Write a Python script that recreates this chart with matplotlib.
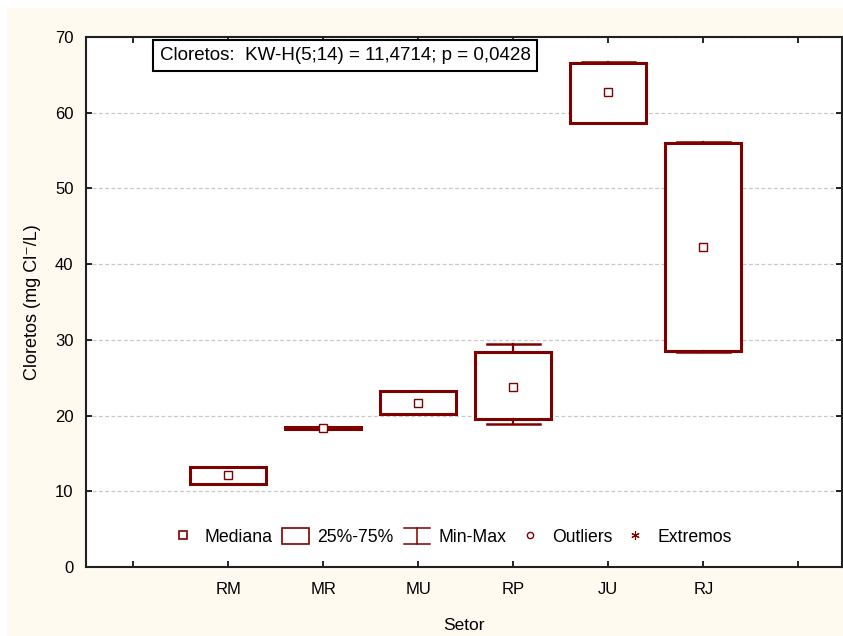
import matplotlib
matplotlib.use("Agg")
import matplotlib.pyplot as plt
from matplotlib.patches import Rectangle, Patch
from matplotlib.lines import Line2D
from matplotlib.legend_handler import HandlerBase

plt.rcParams['font.family'] = ['Liberation Sans', 'DejaVu Sans']

# Chloride by sector: min, quartiles, median, max (mg Cl-/L)
setores = ['RM', 'MR', 'MU', 'RP', 'JU', 'RJ']
minimo = [11.0, 18.2, 20.2, 18.9, 58.6, 28.4]
q1 = [11.0, 18.2, 20.2, 19.5, 58.7, 28.5]
mediana = [12.1, 18.3, 21.7, 23.8, 62.7, 42.3]
q3 = [13.2, 18.5, 23.2, 28.4, 66.6, 56.0]
maximo = [13.2, 18.5, 23.2, 29.4, 66.7, 56.1]
y_ticks = [0, 10, 20, 30, 40, 50, 60, 70]

cor = '#800000'
fundo = '#FFFAF0'

fig = plt.figure(figsize=(8.43, 6.36), dpi=100)
fig.patch.set_facecolor('white')
fig.patches.append(Rectangle((7 / 843, 0), 1, 1 - 8 / 636, transform=fig.transFigure,
                             facecolor=fundo, edgecolor='none', zorder=-10))

ax = fig.add_axes([86 / 843, 1 - 567 / 636, (842 - 86) / 843, (567 - 37) / 636])
ax.set_facecolor('white')

posicoes = list(range(2, 2 + len(setores)))
stats = []
for i, nome in enumerate(setores):
    stats.append(dict(label=nome, whislo=minimo[i], q1=q1[i], med=mediana[i],
                      q3=q3[i], whishi=maximo[i], fliers=[]))

ax.bxp(stats, positions=posicoes, widths=0.8, capwidths=0.56, showfliers=False,
       patch_artist=True,
       boxprops=dict(facecolor='white', edgecolor=cor, linewidth=2.2),
       whiskerprops=dict(color=cor, linewidth=1.6),
       capprops=dict(color=cor, linewidth=1.8),
       medianprops=dict(linewidth=0), zorder=3)
ax.plot(posicoes, mediana, linestyle='none', marker='s', markersize=6,
        markerfacecolor='white', markeredgecolor=cor, markeredgewidth=1.0, zorder=5)

ax.set_xlim(0.5, 8.46)
ax.set_ylim(0, 70)
ax.set_xticks(range(1, 9))
ax.set_xticklabels([''] + setores + [''])
ax.set_yticks(y_ticks)
ax.tick_params(axis='both', direction='in', length=4, width=1.2, labelsize=12,
               top=True, right=True, colors='black')
ax.tick_params(axis='x', pad=11)
ax.tick_params(axis='y', pad=9)
for s in ax.spines.values():
    s.set_linewidth(1.5)
    s.set_color('#202020')

ax.yaxis.grid(True, color='#c8c8c8', linestyle=(0, (3, 2)), linewidth=0.9)
ax.set_axisbelow(True)

ax.set_ylabel('Cloretos (mg Cl⁻/L)', fontsize=13, labelpad=10)
ax.set_xlabel('Setor', fontsize=12.5, labelpad=15)

ax.text(0.3426, 0.965, 'Cloretos:  KW-H(5;14) = 11,4714; p = 0,0428',
        transform=ax.transAxes, ha='center', va='center', fontsize=13.5,
        bbox=dict(boxstyle='square,pad=0.37', facecolor='white',
                  edgecolor='black', linewidth=1.5), zorder=6)


class WhiskerHandler(HandlerBase):
    def create_artists(self, legend, orig_handle, xdescent, ydescent,
                       width, height, fontsize, trans):
        x0, x1 = -xdescent, -xdescent + width
        y0, y1 = -ydescent, -ydescent + height
        xm = (x0 + x1) / 2
        linhas = [Line2D([x0, x1], [y1, y1]), Line2D([xm, xm], [y0, y1]),
                  Line2D([x0, x1], [y0, y0])]
        for ln in linhas:
            ln.set_color(cor)
            ln.set_linewidth(1.1)
            ln.set_transform(trans)
        return linhas


h_med = Line2D([], [], linestyle='none', marker='s', markersize=6,
               markerfacecolor='white', markeredgecolor=cor, markeredgewidth=1.2)
h_box = Patch(facecolor='white', edgecolor=cor, linewidth=1.2)
h_mm = object()
h_out = Line2D([], [], linestyle='none', marker='o', markersize=4.5,
               markerfacecolor='white', markeredgecolor=cor, markeredgewidth=1.0)
h_ext = Line2D([], [], linestyle='none', marker=(6, 2, 0), markersize=6,
               markeredgecolor=cor, markeredgewidth=0.8)

ax.legend([h_med, h_box, h_mm, h_out, h_ext],
          ['Mediana', '25%-75%', 'Min-Max', 'Outliers', 'Extremos'],
          handler_map={object: WhiskerHandler()},
          loc='center', bbox_to_anchor=(0.482, 0.057), ncol=5, frameon=False,
          fontsize=12.7, handlelength=1.5, handleheight=1.05, handletextpad=0.5,
          columnspacing=0.55, borderpad=0.2)

fig.savefig('out.png', dpi=100, facecolor=fig.get_facecolor())
